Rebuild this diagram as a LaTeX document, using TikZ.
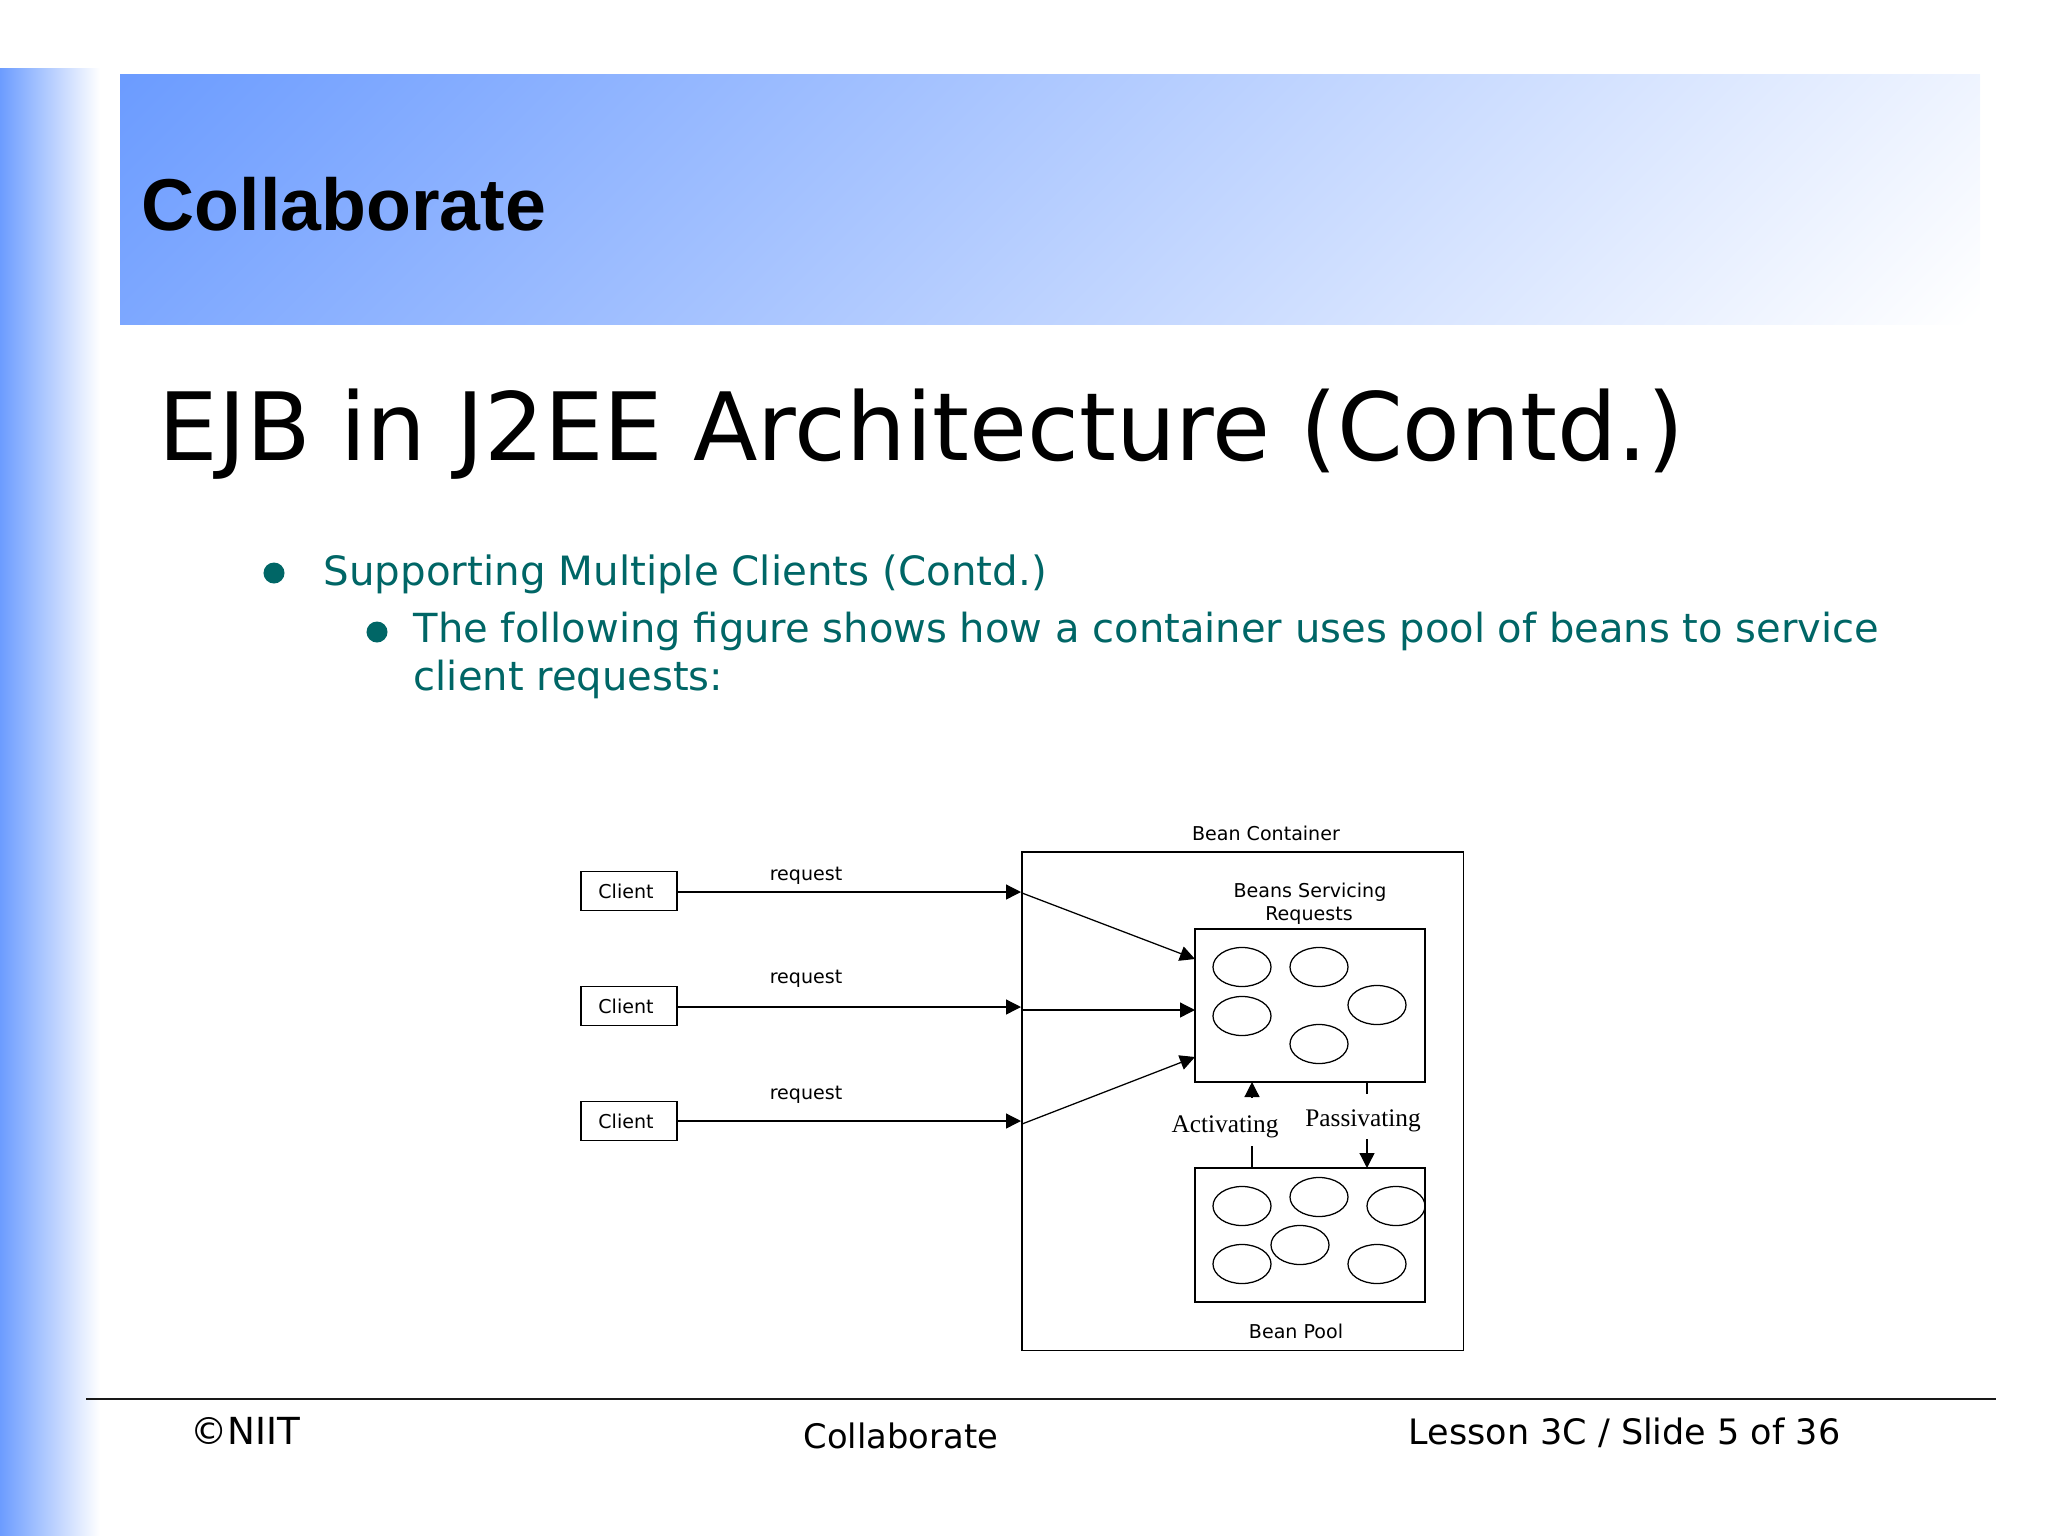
\documentclass[tikz,border=0pt]{standalone}
\usepackage{fontspec}
\setmainfont{DejaVu Sans}
\newfontfamily\headfont{Liberation Sans}
\newfontfamily\figserif{Liberation Serif}
\usetikzlibrary{positioning,arrows.meta,shapes.geometric}
\definecolor{barblue}{HTML}{6C9CFF}
\definecolor{bullettext}{HTML}{006666}
\pgfdeclareverticalshading{bandfade}{100bp}{color(0bp)=(white); color(32.4bp)=(white); color(67.6bp)=(barblue); color(100bp)=(barblue)}
\tikzset{
  slidetext/.style={inner sep=0pt, anchor=base west},
  bodytext/.style={slidetext, text=bullettext, font=\fontsize{11.39}{11.39}\selectfont},
  foottext/.style={slidetext},
  dot/.style={circle, fill=bullettext, draw=none, minimum size=0.21cm, inner sep=0pt},
  figtext/.style={inner sep=0pt, anchor=base, font=\fontsize{5.42}{5.42}\selectfont},
  figserif/.style={inner sep=0pt, anchor=base, font=\figserif\fontsize{7.2}{7.2}\selectfont},
  figbox/.style={draw, line width=0.36pt, inner sep=0pt},
  clientbox/.style={figbox, minimum width=0.96cm, minimum height=0.39cm, font=\fontsize{5.42}{5.42}\selectfont, execute at end node={\kern0.06cm}},
  bean/.style={draw, line width=0.36pt, ellipse, minimum width=0.58cm, minimum height=0.39cm, inner sep=0pt},
  beanarrow/.style={line width=0.36pt, -{Triangle[length=0.15cm,width=0.15cm]}},
  beanstub/.style={line width=0.36pt}
}
\begin{document}
\begin{tikzpicture}[x=0.01cm,y=-0.01cm]
\useasboundingbox (0,0) rectangle (2048,1536);
% Side bar and header band
\shade[left color=barblue, right color=white] (0,68) rectangle (100,1536);
\begin{scope}
\clip (120,74) rectangle (1980,324);
\shade[shading=bandfade, shading angle=45] (-5,-856) rectangle (2105,1254);
\end{scope}
\node[slidetext, font=\headfont\bfseries\fontsize{20.9}{20.9}\selectfont] (head) at (141,230) {Collaborate};
% Title and bullets
\node[slidetext, font=\fontsize{26.8}{26.8}\selectfont] (title) at (158,460) {EJB in J2EE Architecture (Contd.)};
\node[dot] (dot1) at (274,573) {};
\node[bodytext, font=\fontsize{11.48}{11.48}\selectfont] (item1) at (323,585) {Supporting Multiple Clients (Contd.)};
\node[dot] (dot2) at (377,632) {};
\node[bodytext] (item2) at (413,642) {The following figure shows how a container uses pool of beans to service};
\node[bodytext] (item2b) at (413,690) {client requests:};
% Clients
\node[clientbox] (client1) at (629,891) {Client};
\node[clientbox] (client2) at (629,1006) {Client};
\node[clientbox] (client3) at (629,1121) {Client};
\node[figtext] (req1) at (806,880) {request};
\node[figtext] (req2) at (806,983) {request};
\node[figtext] (req3) at (806,1099) {request};
% Container and boxes
\node[figbox, minimum width=4.41cm, minimum height=4.98cm] (container) at (1242.5,1101) {};
\node[figbox, minimum width=2.30cm, minimum height=1.53cm] (serving) at (1310,1005.5) {};
\node[figbox, minimum width=2.30cm, minimum height=1.34cm] (pool) at (1310,1235) {};
\node[figtext] (contlabel) at (1266,840) {Bean Container};
\node[figtext] (servlabel) at (1310,897) {Beans Servicing};
\node[figtext] (servlabelb) at (1309,920) {Requests};
\node[figtext] (poollabel) at (1296,1338) {Bean Pool};
\node[figserif] (actlabel) at (1225,1132) {Activating};
\node[figserif] (paslabel) at (1363,1126) {Passivating};
% Beans servicing requests
\node[bean] (s1) at (1242,967) {};
\node[bean] (s2) at (1319,967) {};
\node[bean] (s3) at (1377,1005) {};
\node[bean] (s4) at (1242,1016) {};
\node[bean] (s5) at (1319,1044) {};
% Bean pool
\node[bean] (p1) at (1242,1206) {};
\node[bean] (p2) at (1319,1197) {};
\node[bean] (p3) at (1396,1206) {};
\node[bean] (p4) at (1300,1245) {};
\node[bean] (p5) at (1242,1264) {};
\node[bean] (p6) at (1377,1264) {};
% Connector ends
\coordinate (edge1) at (1021,892);
\coordinate (edge2) at (1021,1007);
\coordinate (edge3) at (1021,1121);
\coordinate (start1) at (1022,893);
\coordinate (start2) at (1022,1010);
\coordinate (start3) at (1022,1124);
\coordinate (hit1) at (1195,959);
\coordinate (hit2) at (1195,1010);
\coordinate (hit3) at (1195,1057);
\coordinate (acttip) at (1252,1082);
\coordinate (acttail) at (1252,1097);
\coordinate (actstub) at (1252,1146);
\coordinate (actfoot) at (1252,1168);
\coordinate (pasroot) at (1367,1082);
\coordinate (passtub) at (1367,1094);
\coordinate (pastail) at (1367,1139);
\coordinate (pastip) at (1367,1168);
% Connectors
\draw[beanarrow] (client1.east |- edge1) -- (edge1);
\draw[beanarrow] (client2.east |- edge2) -- (edge2);
\draw[beanarrow] (client3.east |- edge3) -- (edge3);
\draw[beanarrow] (start1) -- (hit1);
\draw[beanarrow] (start2) -- (hit2);
\draw[beanarrow] (start3) -- (hit3);
\draw[beanarrow] (acttail) -- (acttip);
\draw[beanstub] (actstub) -- (actfoot);
\draw[beanstub] (pasroot) -- (passtub);
\draw[beanarrow] (pastail) -- (pastip);
% Footer
\coordinate (ruleleft) at (86,1399);
\coordinate (ruleright) at (1996,1399);
\draw[line width=0.8pt, black!90] (ruleleft) -- (ruleright);
\node[foottext, font=\fontsize{10.6}{10.6}\selectfont] (foot1) at (190,1444) {©NIIT};
\node[foottext, font=\fontsize{9.6}{9.6}\selectfont] (foot2) at (803,1448) {Collaborate};
\node[foottext, font=\fontsize{9.95}{9.95}\selectfont] (foot3) at (1408,1444) {Lesson 3C / Slide 5 of 36};
\end{tikzpicture}
\end{document}
